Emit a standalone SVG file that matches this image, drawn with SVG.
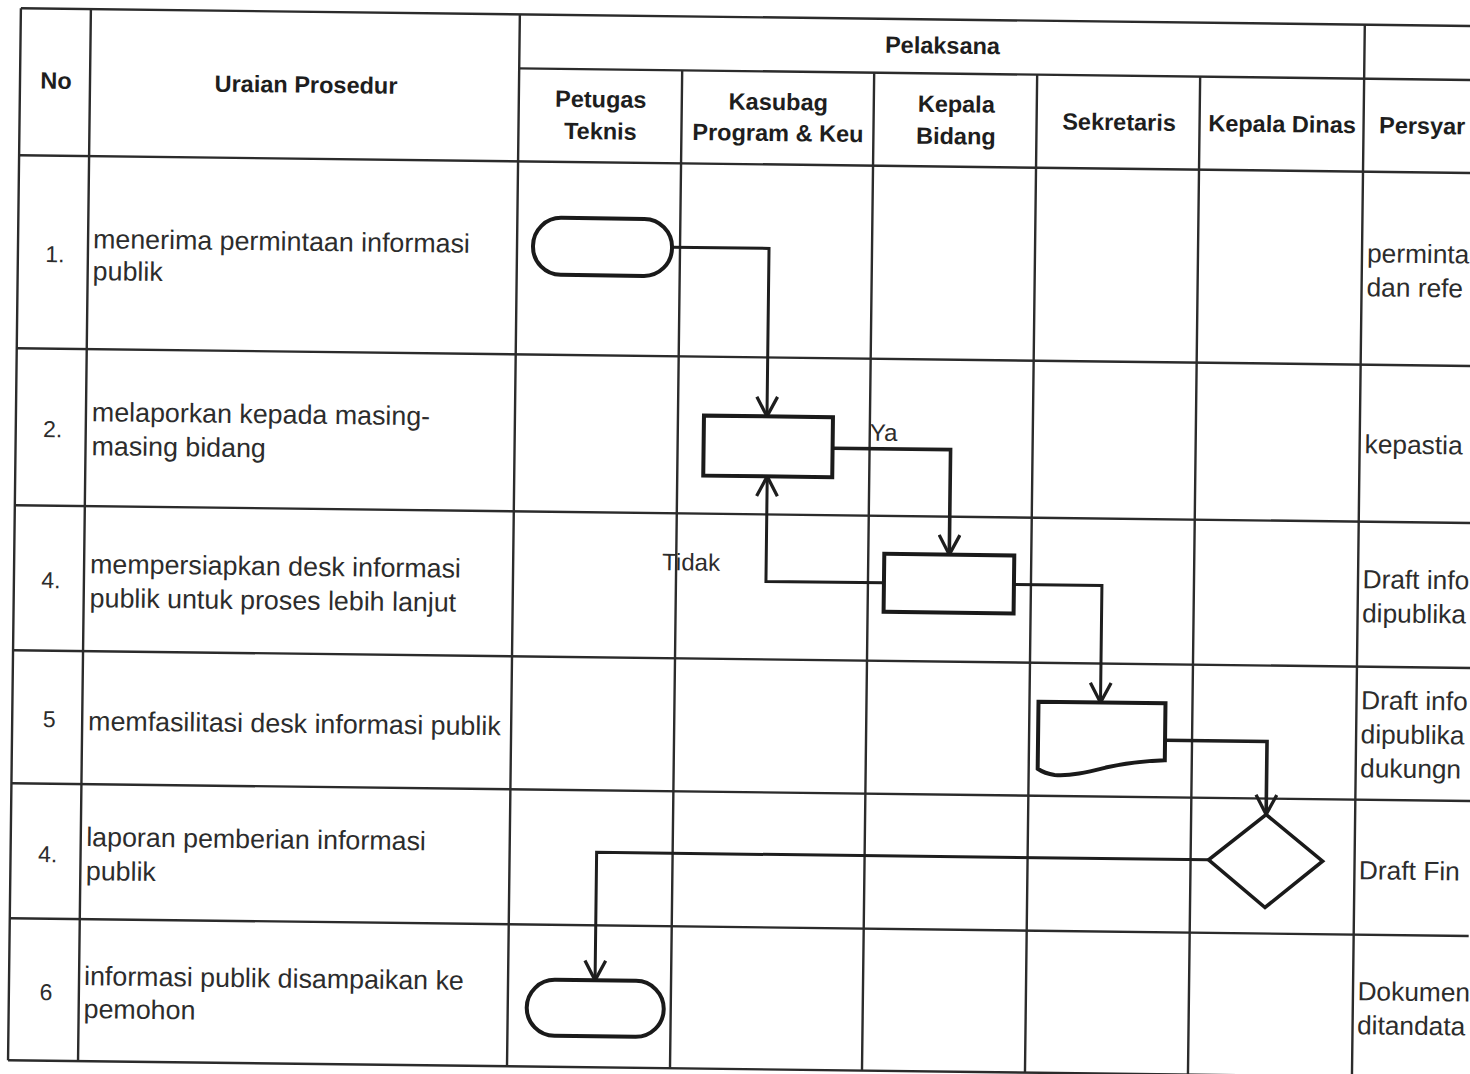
<svg xmlns="http://www.w3.org/2000/svg" width="1470" height="1074" viewBox="0 0 1470 1074">
<defs>
<marker id="arr" markerUnits="userSpaceOnUse" markerWidth="24" markerHeight="24" viewBox="0 0 22 22" refX="20" refY="11" orient="auto">
<path d="M2,1.5 L20,11 L2,20.5" fill="none" stroke="#1e1e1e" stroke-width="3"/>
</marker>
<style>
.grid{stroke:#2b2b2b;stroke-width:2.4;fill:none}
.hdr{font-family:"Liberation Sans",Arial,sans-serif;font-weight:bold;font-size:23.5px;fill:#1e1e1e;text-anchor:middle}
.txt{font-family:"Liberation Sans",Arial,sans-serif;font-size:26.8px;fill:#2c2c2c}
.req{font-family:"Liberation Sans",Arial,sans-serif;font-size:26.3px;fill:#2c2c2c}
.num{font-family:"Liberation Sans",Arial,sans-serif;font-size:23px;fill:#2c2c2c;text-anchor:middle}
.lbl{font-family:"Liberation Sans",Arial,sans-serif;font-size:24px;fill:#2c2c2c}
.shape{fill:#fff;stroke:#1a1a1a;stroke-width:4}
.conn{fill:none;stroke:#1e1e1e;stroke-width:3;marker-end:url(#arr)}
</style>
</defs>
<rect width="1470" height="1074" fill="#fff"/>
<g transform="rotate(0.7)">
<g id="table">
<path class="grid" d="M21,8 H1480 M520,62 H1480 M21,155 H1480 M21,348 H1480 M21,505 H1480 M21,650 H1480 M21,783 H1480 M21,918 H1480 M21,1060 H1480"/>
<path class="grid" d="M21,8 V1060 M91,8 V1060 M520,8 V1060 M683,62 V1060 M875,62 V1060 M1038,62 V1060 M1201,62 V1060 M1365,8 V1060"/>
<text class="hdr" x="57" y="88">No</text>
<text class="hdr" x="307" y="89">Uraian Prosedur</text>
<text class="hdr" x="943" y="42">Pelaksana</text>
<text class="hdr" x="602" y="100">Petugas</text>
<text class="hdr" x="602" y="132">Teknis</text>
<text class="hdr" x="779.5" y="100.5">Kasubag</text>
<text class="hdr" x="779.5" y="131.5">Program &amp; Keu</text>
<text class="hdr" x="957.5" y="100.5">Kepala</text>
<text class="hdr" x="957.5" y="132.5">Bidang</text>
<text class="hdr" x="1120.5" y="116.5">Sekretaris</text>
<text class="hdr" x="1283.5" y="116.5">Kepala Dinas</text>
<text class="hdr" x="1380.5" y="116.5" style="text-anchor:start">Persyar</text>
</g>
<g id="rows">
<text class="num" x="58" y="261.5">1.</text>
<text class="txt" x="96" y="247">menerima permintaan informasi</text>
<text class="txt" x="96" y="279">publik</text>
<text class="req" x="1370" y="245.5">perminta</text>
<text class="req" x="1370" y="279.5">dan refe</text>

<text class="num" x="58" y="436.5">2.</text>
<text class="txt" x="97" y="420">melaporkan kepada masing-</text>
<text class="txt" x="97" y="454">masing bidang</text>
<text class="req" x="1370" y="436.5">kepastia</text>

<text class="num" x="58" y="587.5">4.</text>
<text class="txt" x="97" y="572">mempersiapkan desk informasi</text>
<text class="txt" x="97" y="606">publik untuk proses lebih lanjut</text>
<text class="req" x="1369.5" y="571.5">Draft info</text>
<text class="req" x="1369.5" y="605.5">dipublika</text>

<text class="num" x="58" y="726.5">5</text>
<text class="txt" x="97" y="729">memfasilitasi desk informasi publik</text>
<text class="req" x="1369.5" y="692.5">Draft info</text>
<text class="req" x="1369.5" y="726.5">dipublika</text>
<text class="req" x="1369.5" y="760.5">dukungn</text>

<text class="num" x="58" y="861.5">4.</text>
<text class="txt" x="96.5" y="845">laporan pemberian informasi</text>
<text class="txt" x="96.5" y="879">publik</text>
<text class="req" x="1369.5" y="862.5">Draft Fin</text>

<text class="num" x="58" y="999.5">6</text>
<text class="txt" x="96" y="984">informasi publik disampaikan ke</text>
<text class="txt" x="96" y="1017">pemohon</text>
<text class="req" x="1369.5" y="983.5">Dokumen</text>
<text class="req" x="1369.5" y="1017.5">ditandata</text>
</g>
<g id="connectors">
<path class="conn" d="M675,239 H772 V407"/>
<path class="conn" d="M838,438 H956 V543" style="stroke-width:3.6"/>
<path class="conn" d="M891,572 H773 V467"/>
<path class="conn" d="M1021,572 H1109 V689"/>
<path class="conn" d="M1174,726 H1276 V799" style="stroke-width:3.6"/>
<path class="conn" d="M1219,845 H607 V973"/>
<text class="lbl" x="875" y="430">Ya</text>
<text class="lbl" x="669" y="562">Tidak</text>
</g>
<g id="start"><rect class="shape" x="536" y="211" width="139" height="57" rx="28"/></g>
<g id="lapor"><rect class="shape" x="709" y="407" width="129" height="60"/></g>
<g id="persiapan"><rect class="shape" x="891" y="543" width="130" height="58"/></g>
<g id="dokumen"><path class="shape" d="M1047,689 H1174 V746 C1152,747 1132,750 1115,754 C1096,759 1080,763 1064,762 C1056,761 1050,758 1047,756 Z"/></g>
<g id="keputusan"><path class="shape" d="M1276,799 L1333,845 L1276,892 L1219,845 Z" style="stroke-width:3.6"/></g>
<g id="end"><rect class="shape" x="539" y="973" width="137" height="56" rx="28"/></g>
</g>
</svg>
